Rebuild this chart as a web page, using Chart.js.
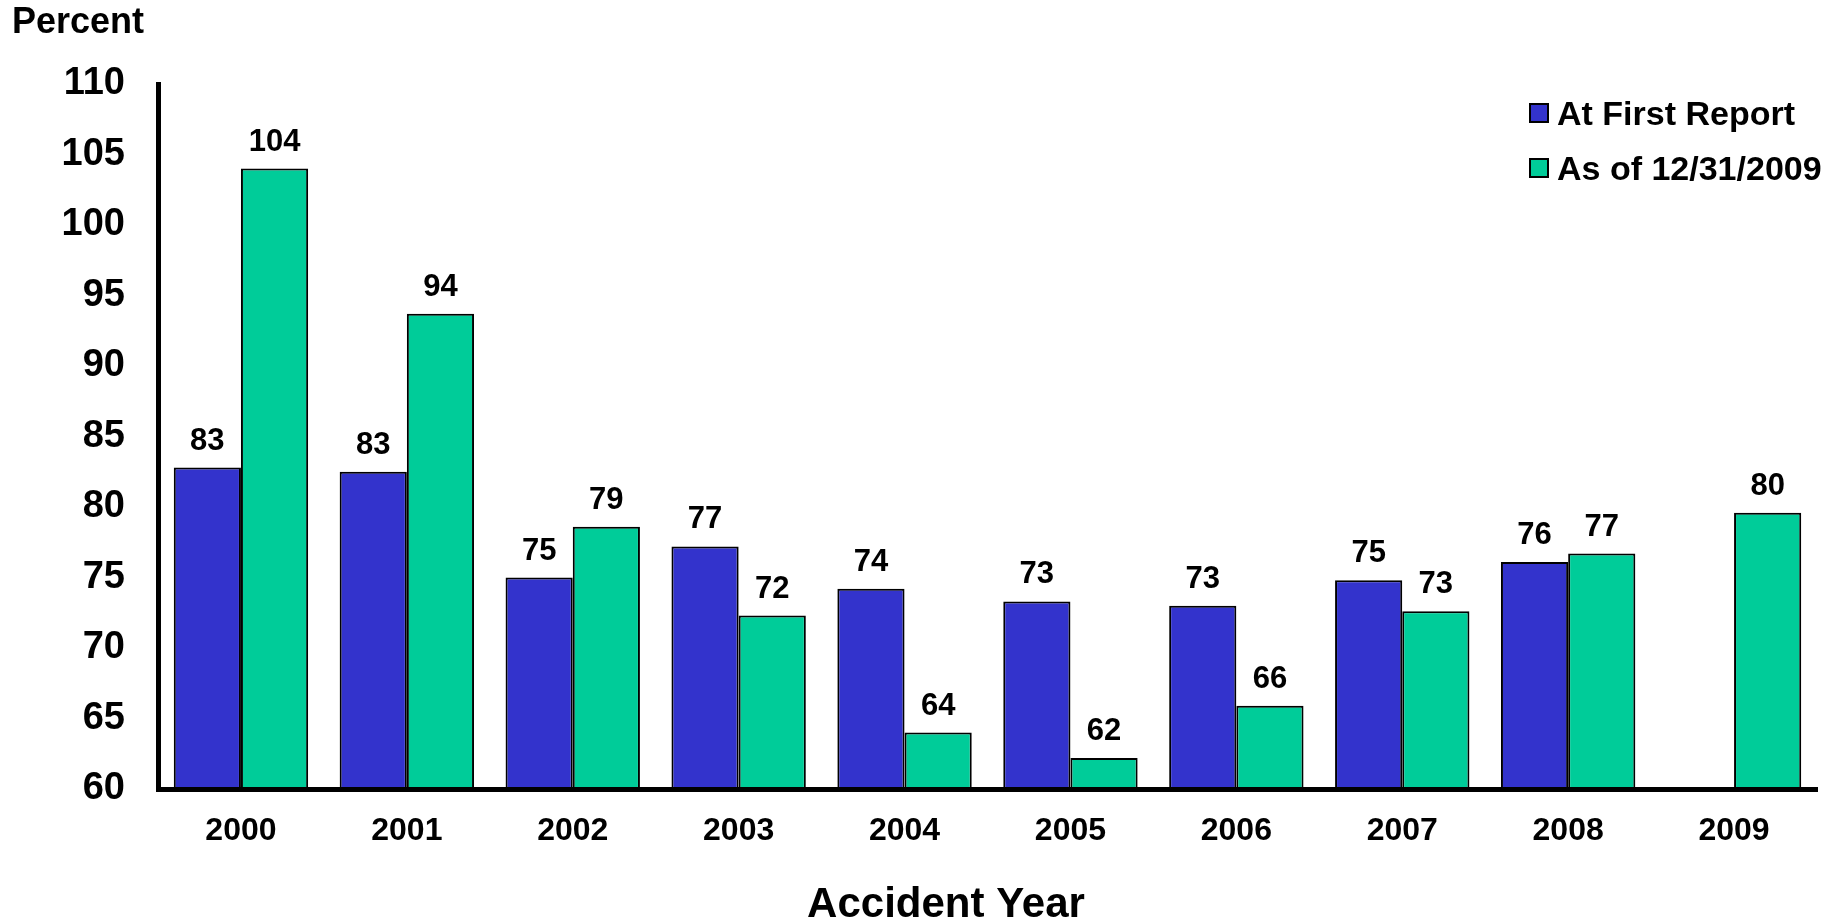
<!DOCTYPE html>
<html lang="en">
<head>
    <meta charset="UTF-8">
    <meta name="viewport" content="width=device-width, initial-scale=1.0">
    <title>Accident Year</title>
    <style>
        html, body { margin: 0; padding: 0; background: #fff; }
        #wrap { width: 1843px; height: 920px; }
    </style>
</head>
<body>

    <div id="wrap">
        <canvas id="myChart"></canvas>
    </div>

    <script src="https://cdn.jsdelivr.net/npm/chart.js"></script>

    <script>
        // values
        const years = ['2000', '2001', '2002', '2003', '2004', '2005', '2006', '2007', '2008', '2009'];
        const firstReport = [82.8, 82.5, 75.0, 77.2, 74.2, 73.3, 73.0, 74.8, 76.1, null];
        const asOf2009 = [104.0, 93.7, 78.6, 72.3, 64.0, 62.2, 65.9, 72.6, 76.7, 79.6];
        const seriesNames = ['At First Report', 'As of 12/31/2009'];
        const seriesColors = ['#3333CC', '#00CC99'];
        const yMin = 60, yMax = 110, yStep = 5;

        const FONT = '"Liberation Sans", Arial, sans-serif';

        // data labels, legend and the two titles
        const extras = {
            id: 'extras',
            afterDatasetsDraw(chart) {
                const ctx = chart.ctx;
                ctx.save();
                ctx.fillStyle = '#000';

                ctx.font = 'bold 31px ' + FONT;
                ctx.textAlign = 'center';
                ctx.textBaseline = 'alphabetic';
                chart.data.datasets.forEach((ds, i) => {
                    chart.getDatasetMeta(i).data.forEach((bar, j) => {
                        const v = ds.data[j];
                        if (v == null) return;
                        ctx.fillText(String(Math.round(v)), bar.x, bar.y - 18);
                    });
                });

                // legend
                ctx.font = 'bold 34px ' + FONT;
                ctx.textAlign = 'left';
                const baselines = [125, 180];
                chart.data.datasets.forEach((ds, i) => {
                    const by = baselines[i];
                    ctx.fillStyle = ds.backgroundColor;
                    ctx.fillRect(1530, by - 21, 18, 18);
                    ctx.lineWidth = 2;
                    ctx.strokeStyle = '#000';
                    ctx.strokeRect(1530, by - 21, 18, 18);
                    ctx.fillStyle = '#000';
                    ctx.fillText(ds.label, 1557, by);
                });

                // titles
                ctx.font = 'bold 36px ' + FONT;
                ctx.fillText('Percent', 12, 33);
                ctx.font = 'bold 42px ' + FONT;
                ctx.textAlign = 'center';
                ctx.fillText('Accident Year', 946, 917);
                ctx.restore();
            }
        };

        const ctx = document.getElementById('myChart');

        new Chart(ctx, {
            type: 'bar',
            data: {
                labels: years,
                datasets: [{
                    label: seriesNames[0],
                    data: firstReport,
                    backgroundColor: seriesColors[0],
                    borderColor: '#000',
                    borderWidth: 2
                }, {
                    label: seriesNames[1],
                    data: asOf2009,
                    backgroundColor: seriesColors[1],
                    borderColor: '#000',
                    borderWidth: 2
                }]
            },
            options: {
                responsive: true,
                maintainAspectRatio: false,
                animation: false,
                layout: { padding: { left: 0, right: 26, top: 84, bottom: 0 } },
                datasets: {
                    bar: { categoryPercentage: 0.81, barPercentage: 1.0 }
                },
                plugins: {
                    legend: { display: false },
                    tooltip: { enabled: false }
                },
                scales: {
                    x: {
                        grid: { display: false, drawTicks: false },
                        border: { display: true, color: '#000', width: 5, z: 1 },
                        ticks: {
                            color: '#000',
                            padding: 23,
                            font: { family: FONT, size: 32, weight: 'bold' }
                        },
                        afterFit(scale) { scale.height = 131; }
                    },
                    y: {
                        min: yMin,
                        max: yMax,
                        grid: { display: false, drawTicks: false },
                        border: { display: true, color: '#000', width: 5, z: 1 },
                        ticks: {
                            stepSize: yStep,
                            color: '#000',
                            padding: 33,
                            font: { family: FONT, size: 38, weight: 'bold' }
                        },
                        afterFit(scale) { scale.width = 158; }
                    }
                }
            },
            plugins: [extras]
        });
    </script>
</body>
</html>
